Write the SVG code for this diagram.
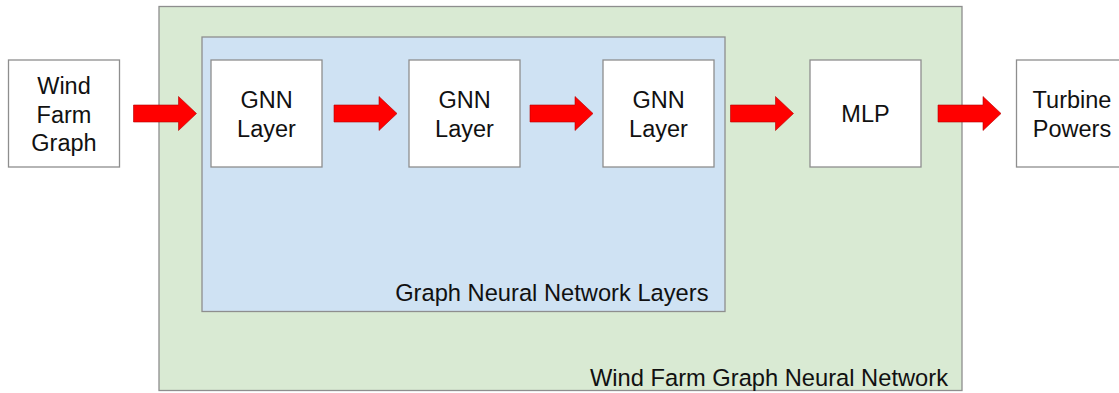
<svg xmlns="http://www.w3.org/2000/svg" width="1119" height="393" viewBox="0 0 1119 393">
  <defs>
    <style>
      .box { fill: #ffffff; stroke: #8e8e8e; stroke-width: 1.3; }
      .frame-outer { fill: #d9ead3; stroke: #8e8e8e; stroke-width: 1.3; }
      .frame-inner { fill: #cfe2f3; stroke: #8e8e8e; stroke-width: 1.3; }
      .lbl { font-family: "Liberation Sans", Arial, sans-serif; font-size: 23.5px; fill: #111111; text-anchor: middle; }
      .cap { font-family: "Liberation Sans", Arial, sans-serif; font-size: 23.7px; fill: #111111; text-anchor: end; }
      .arrow { fill: #ff0000; stroke: #b30000; stroke-width: 0.6; stroke-linejoin: miter; }
    </style>
    <!-- block arrow, 63 wide, pointing right, tip at (63,0) -->
    <path id="blockArrow" d="M0,-8.5 H45 V-17 L63,0 L45,17 V8.5 H0 Z"/>
  </defs>

  <!-- containers -->
  <g id="wind-farm-gnn">
    <rect class="frame-outer" x="159" y="6.5" width="803" height="384"/>
    <text class="cap" x="948" y="385.5">Wind Farm Graph Neural Network</text>
  </g>
  <g id="gnn-layers">
    <rect class="frame-inner" x="202" y="37" width="523" height="274.5"/>
    <text class="cap" x="708.5" y="300.7">Graph Neural Network Layers</text>
  </g>

  <!-- nodes -->
  <g id="wind-farm-graph">
    <rect class="box" x="8.5" y="60" width="111" height="107"/>
    <text class="lbl" x="64" y="94.3">Wind</text>
    <text class="lbl" x="64" y="122.6">Farm</text>
    <text class="lbl" x="64" y="150.9">Graph</text>
  </g>
  <g id="gnn-layer-1">
    <rect class="box" x="211" y="60" width="111" height="107"/>
    <text class="lbl" x="266.5" y="108.3">GNN</text>
    <text class="lbl" x="266.5" y="136.7">Layer</text>
  </g>
  <g id="gnn-layer-2">
    <rect class="box" x="409" y="60" width="111" height="107"/>
    <text class="lbl" x="464.5" y="108.3">GNN</text>
    <text class="lbl" x="464.5" y="136.7">Layer</text>
  </g>
  <g id="gnn-layer-3">
    <rect class="box" x="603" y="60" width="111" height="107"/>
    <text class="lbl" x="658.5" y="108.3">GNN</text>
    <text class="lbl" x="658.5" y="136.7">Layer</text>
  </g>
  <g id="mlp">
    <rect class="box" x="810" y="60" width="111" height="107"/>
    <text class="lbl" x="865.5" y="122.3">MLP</text>
  </g>
  <g id="turbine-powers">
    <rect class="box" x="1016.5" y="60" width="111" height="107"/>
    <text class="lbl" x="1072" y="108.3">Turbine</text>
    <text class="lbl" x="1072" y="136.7">Powers</text>
  </g>

  <!-- connectors -->
  <g id="connectors">
    <use href="#blockArrow" class="arrow" x="133.5" y="113.5"/>
    <use href="#blockArrow" class="arrow" x="334" y="113.5"/>
    <use href="#blockArrow" class="arrow" x="530" y="113.5"/>
    <use href="#blockArrow" class="arrow" x="730.5" y="113.5"/>
    <use href="#blockArrow" class="arrow" x="938" y="113.5"/>
  </g>
</svg>
